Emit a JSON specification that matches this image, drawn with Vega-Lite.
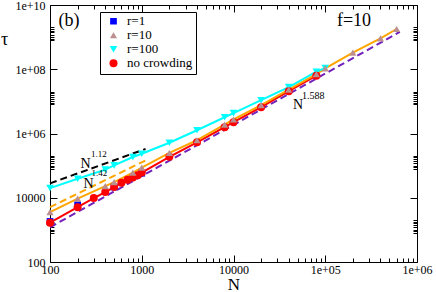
{
  "$schema": "https://vega.github.io/schema/vega-lite/v6.json",
  "width": 367,
  "height": 257,
  "autosize": {"type": "none"},
  "padding": {"left": 50, "top": 5, "right": 19, "bottom": 30},
  "background": "white",
  "config": {
    "view": {"stroke": null},
    "font": "Liberation Serif",
    "axis": {
      "grid": false,
      "domain": true,
      "domainColor": "#000000",
      "domainWidth": 1,
      "ticks": true,
      "tickColor": "#000000",
      "tickWidth": 1,
      "labelFont": "Liberation Serif",
      "labelFontSize": 12,
      "labelColor": "#000000",
      "labelOverlap": false,
      "labelFlush": false,
      "labelBound": false,
      "titleFont": "Liberation Serif",
      "titleFontSize": 18,
      "titleFontWeight": "normal",
      "titleColor": "#000000"
    }
  },
  "datasets": {
    "pts": [
      {"series": "r=100", "N": 100, "tau": 20000},
      {"series": "r=100", "N": 200, "tau": 39000},
      {"series": "r=100", "N": 400, "tau": 75000},
      {"series": "r=100", "N": 500, "tau": 102000},
      {"series": "r=100", "N": 800, "tau": 186000},
      {"series": "r=100", "N": 1000, "tau": 234000},
      {"series": "r=100", "N": 2000, "tau": 515000},
      {"series": "r=100", "N": 4000, "tau": 1260000},
      {"series": "r=100", "N": 8000, "tau": 3200000},
      {"series": "r=100", "N": 10000, "tau": 4300000},
      {"series": "r=100", "N": 20000, "tau": 10900000},
      {"series": "r=100", "N": 40000, "tau": 27700000},
      {"series": "r=100", "N": 80000, "tau": 84000000},
      {"series": "r=100", "N": 100000, "tau": 109000000},
      {"series": "r=1", "N": 100, "tau": 1830},
      {"series": "r=1", "N": 200, "tau": 6000},
      {"series": "r=1", "N": 500, "tau": 21500},
      {"series": "r=1", "N": 1000, "tau": 58000},
      {"series": "no crowding", "N": 100, "tau": 1670},
      {"series": "no crowding", "N": 200, "tau": 5100},
      {"series": "no crowding", "N": 300, "tau": 9800},
      {"series": "no crowding", "N": 400, "tau": 15000},
      {"series": "no crowding", "N": 500, "tau": 21500},
      {"series": "no crowding", "N": 600, "tau": 29500},
      {"series": "no crowding", "N": 700, "tau": 36600},
      {"series": "no crowding", "N": 800, "tau": 43000},
      {"series": "no crowding", "N": 900, "tau": 50000},
      {"series": "no crowding", "N": 1000, "tau": 60600},
      {"series": "no crowding", "N": 2000, "tau": 188000},
      {"series": "no crowding", "N": 4000, "tau": 530000},
      {"series": "no crowding", "N": 8000, "tau": 1570000},
      {"series": "no crowding", "N": 10000, "tau": 2240000},
      {"series": "no crowding", "N": 20000, "tau": 6600000},
      {"series": "no crowding", "N": 40000, "tau": 20800000},
      {"series": "no crowding", "N": 80000, "tau": 63000000},
      {"series": "r=10", "N": 100, "tau": 3580},
      {"series": "r=10", "N": 200, "tau": 9400},
      {"series": "r=10", "N": 400, "tau": 23100},
      {"series": "r=10", "N": 500, "tau": 30800},
      {"series": "r=10", "N": 800, "tau": 60600},
      {"series": "r=10", "N": 1000, "tau": 87000},
      {"series": "r=10", "N": 2000, "tau": 248000},
      {"series": "r=10", "N": 4000, "tau": 617000},
      {"series": "r=10", "N": 8000, "tau": 1900000},
      {"series": "r=10", "N": 10000, "tau": 2730000},
      {"series": "r=10", "N": 20000, "tau": 7600000},
      {"series": "r=10", "N": 40000, "tau": 23200000},
      {"series": "r=10", "N": 80000, "tau": 70500000},
      {"series": "r=10", "N": 100000, "tau": 106000000},
      {"series": "r=10", "N": 200000, "tau": 330000000},
      {"series": "r=10", "N": 400000, "tau": 920000000},
      {"series": "r=10", "N": 600000, "tau": 1790000000}
    ],
    "fits": [
      {"fit": "1.12", "N": 100, "tau": 28000},
      {"fit": "1.12", "N": 1100, "tau": 330000},
      {"fit": "1.42", "N": 100, "tau": 5100},
      {"fit": "1.42", "N": 1100, "tau": 145000},
      {"fit": "1.588", "N": 100, "tau": 1200},
      {"fit": "1.588", "N": 650000, "tau": 1450000000}
    ],
    "big": [
      {"label": "(b)", "N": 161, "tau": 3180000000},
      {"label": "f=10", "N": 206000, "tau": 3290000000}
    ],
    "nlab": [
      {"label": "N", "N": 244, "tau": 110000},
      {"label": "N", "N": 263, "tau": 27100},
      {"label": "N", "N": 50500, "tau": 7600000}
    ],
    "sup": [
      {"label": "1.12", "N": 280, "tau": 234000},
      {"label": "1.42", "N": 283, "tau": 57600}
    ],
    "sup2": [
      {"label": "1.588", "N": 55800, "tau": 14500000}
    ]
  },
  "layer": [
    {
      "data": {"name": "fits"},
      "mark": {"type": "line", "strokeWidth": 2, "strokeDash": [7, 4]},
      "encoding": {
        "x": {
          "field": "N", "type": "quantitative",
          "scale": {"type": "log", "domain": [100, 1000000], "nice": false},
          "axis": {
            "orient": "bottom",
            "values": [100,200,300,400,500,600,700,800,900,1000,2000,3000,4000,5000,6000,7000,8000,9000,10000,20000,30000,40000,50000,60000,70000,80000,90000,100000,200000,300000,400000,500000,600000,700000,800000,900000,1000000],
            "labelExpr": "datum.value == 100 ? '100' : datum.value == 1000 ? '1000' : datum.value == 10000 ? '10000' : datum.value == 100000 ? '1e+05' : datum.value == 1000000 ? '1e+06' : ''",
            "tickSize": {"condition": {"test": "indexof([100,1000,10000,100000,1000000], datum.value) >= 0", "value": -7}, "value": -4},
            "labelPadding": 9,
            "title": "N",
            "titleFontSize": 17,
            "titleX": 183.5,
            "titleY": 27,
            "titleAlign": "center",
            "titleBaseline": "alphabetic"
          }
        },
        "y": {
          "field": "tau", "type": "quantitative",
          "scale": {"type": "log", "domain": [100, 10000000000], "nice": false},
          "axis": {
            "orient": "left",
            "values": [100,800,900,1000,1200,1400,1600,1800,2000,10000,80000,90000,100000,120000,140000,160000,180000,200000,1000000,8000000,9000000,10000000,12000000,14000000,16000000,18000000,20000000,100000000,800000000,900000000,1000000000,1200000000,1400000000,1600000000,1800000000,2000000000,10000000000],
            "labelExpr": "datum.value == 100 ? '100' : datum.value == 10000 ? '10000' : datum.value == 1000000 ? '1e+06' : datum.value == 100000000 ? '1e+08' : datum.value == 10000000000 ? '1e+10' : ''",
            "tickSize": {"condition": {"test": "indexof([100,10000,1000000,100000000,10000000000], datum.value) >= 0", "value": -7}, "value": -4},
            "labelPadding": 12,
            "title": "τ",
            "titleAngle": 0,
            "titleX": -46,
            "titleY": 34,
            "titleAlign": "center",
            "titleBaseline": "middle"
          }
        },
        "detail": {"field": "fit", "type": "nominal"},
        "stroke": {
          "field": "fit", "type": "nominal",
          "scale": {"domain": ["1.12", "1.42", "1.588"], "range": ["#000000", "#ffa500", "#7221bc"]},
          "legend": null
        }
      }
    },
    {
      "data": {"name": "pts"},
      "transform": [{"filter": "datum.series === 'no crowding'"}],
      "mark": {"type": "line", "color": "#ff0000", "strokeWidth": 2},
      "encoding": {
        "x": {"field": "N", "type": "quantitative", "scale": {"type": "log"}, "axis": null},
        "y": {"field": "tau", "type": "quantitative", "scale": {"type": "log"}, "axis": null}
      }
    },
    {
      "data": {"name": "pts"},
      "transform": [{"filter": "datum.series === 'r=10'"}],
      "mark": {"type": "line", "color": "#ffa500", "strokeWidth": 2},
      "encoding": {
        "x": {"field": "N", "type": "quantitative", "scale": {"type": "log"}, "axis": null},
        "y": {"field": "tau", "type": "quantitative", "scale": {"type": "log"}, "axis": null}
      }
    },
    {
      "data": {"name": "pts"},
      "transform": [{"filter": "datum.series === 'r=100'"}],
      "mark": {"type": "line", "color": "#00ffff", "strokeWidth": 2},
      "encoding": {
        "x": {"field": "N", "type": "quantitative", "scale": {"type": "log"}, "axis": null},
        "y": {"field": "tau", "type": "quantitative", "scale": {"type": "log"}, "axis": null}
      }
    },
    {
      "data": {"name": "pts"},
      "mark": {"type": "point", "filled": true, "opacity": 1},
      "encoding": {
        "x": {"field": "N", "type": "quantitative", "scale": {"type": "log"}, "axis": null},
        "y": {"field": "tau", "type": "quantitative", "scale": {"type": "log"}, "axis": null},
        "color": {
          "field": "series", "type": "nominal",
          "scale": {"domain": ["r=1", "r=10", "r=100", "no crowding"], "range": ["#0000ff", "#bc8f8f", "#00ffff", "#ff0000"]},
          "legend": {
            "title": null, "orient": "none", "legendX": 50, "legendY": 7,
            "padding": 3, "strokeColor": "#000000", "fillColor": "#ffffff",
            "labelFont": "Liberation Serif", "labelFontSize": 13, "labelColor": "#000000",
            "clipHeight": 12.5, "rowPadding": 0, "labelOffset": 7, "symbolOffset": 4
          }
        },
        "shape": {
          "field": "series", "type": "nominal",
          "scale": {"domain": ["r=1", "r=10", "r=100", "no crowding"], "range": ["square", "triangle-up", "triangle-down", "circle"]},
          "legend": null
        },
        "size": {
          "field": "series", "type": "nominal",
          "scale": {"domain": ["r=1", "r=10", "r=100", "no crowding"], "range": [45, 64, 64, 34]},
          "legend": null
        }
      }
    },
    {
      "data": {"name": "nlab"},
      "mark": {"type": "text", "font": "Liberation Serif", "fontSize": 14, "align": "center", "baseline": "middle", "color": "#000000"},
      "encoding": {
        "x": {"field": "N", "type": "quantitative", "scale": {"type": "log"}, "axis": null},
        "y": {"field": "tau", "type": "quantitative", "scale": {"type": "log"}, "axis": null},
        "text": {"field": "label"}
      }
    },
    {
      "data": {"name": "sup"},
      "mark": {"type": "text", "font": "Liberation Serif", "fontSize": 9, "align": "left", "baseline": "middle", "color": "#000000"},
      "encoding": {
        "x": {"field": "N", "type": "quantitative", "scale": {"type": "log"}, "axis": null},
        "y": {"field": "tau", "type": "quantitative", "scale": {"type": "log"}, "axis": null},
        "text": {"field": "label"}
      }
    },
    {
      "data": {"name": "sup2"},
      "mark": {"type": "text", "font": "Liberation Serif", "fontSize": 10, "align": "left", "baseline": "middle", "color": "#000000"},
      "encoding": {
        "x": {"field": "N", "type": "quantitative", "scale": {"type": "log"}, "axis": null},
        "y": {"field": "tau", "type": "quantitative", "scale": {"type": "log"}, "axis": null},
        "text": {"field": "label"}
      }
    },
    {
      "data": {"name": "big"},
      "mark": {"type": "text", "font": "Liberation Serif", "fontSize": 18, "align": "center", "baseline": "middle", "color": "#000000"},
      "encoding": {
        "x": {
          "field": "N", "type": "quantitative", "scale": {"type": "log"},
          "axis": {
            "orient": "top",
            "values": [100,200,300,400,500,600,700,800,900,1000,2000,3000,4000,5000,6000,7000,8000,9000,10000,20000,30000,40000,50000,60000,70000,80000,90000,100000,200000,300000,400000,500000,600000,700000,800000,900000,1000000],
            "labels": false,
            "title": null,
            "tickSize": {"condition": {"test": "indexof([100,1000,10000,100000,1000000], datum.value) >= 0", "value": -7}, "value": -4}
          }
        },
        "y": {
          "field": "tau", "type": "quantitative", "scale": {"type": "log"},
          "axis": {
            "orient": "right",
            "values": [100,800,900,1000,1200,1400,1600,1800,2000,10000,80000,90000,100000,120000,140000,160000,180000,200000,1000000,8000000,9000000,10000000,12000000,14000000,16000000,18000000,20000000,100000000,800000000,900000000,1000000000,1200000000,1400000000,1600000000,1800000000,2000000000,10000000000],
            "labels": false,
            "title": null,
            "tickSize": {"condition": {"test": "indexof([100,10000,1000000,100000000,10000000000], datum.value) >= 0", "value": -7}, "value": -4}
          }
        },
        "text": {"field": "label"}
      }
    }
  ],
  "resolve": {"axis": {"x": "independent", "y": "independent"}}
}
